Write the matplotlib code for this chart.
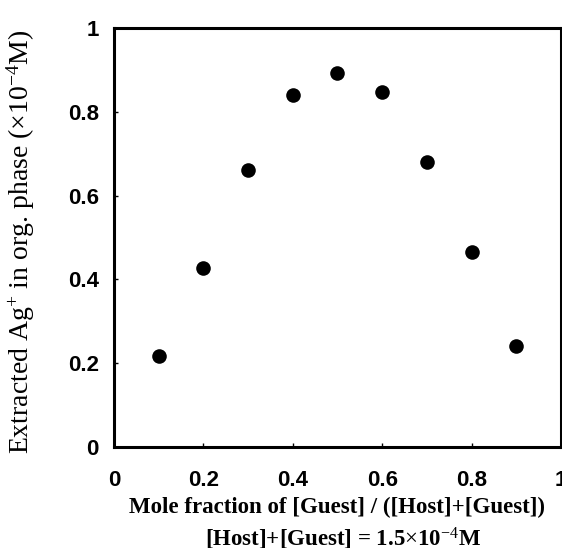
import matplotlib
matplotlib.use("Agg")
import matplotlib.pyplot as plt

mole_fraction = [0.1, 0.2, 0.3, 0.4, 0.5, 0.6, 0.7, 0.8, 0.9]
extracted_ag = [0.217, 0.428, 0.661, 0.841, 0.893, 0.847, 0.681, 0.466, 0.241]
x_ticks = [0, 0.2, 0.4, 0.6, 0.8, 1]
x_tick_labels = ["0", "0.2", "0.4", "0.6", "0.8", "1"]
y_ticks = [0, 0.2, 0.4, 0.6, 0.8, 1]
y_tick_labels = ["0", "0.2", "0.4", "0.6", "0.8", "1"]

plt.rcParams['mathtext.fontset'] = 'custom'
plt.rcParams['mathtext.rm'] = 'Liberation Serif'
plt.rcParams['mathtext.it'] = 'Liberation Serif:italic'
plt.rcParams['mathtext.bf'] = 'Liberation Serif:bold'

fig = plt.figure(figsize=(5.62, 5.48), dpi=100)
ax = fig.add_axes([0.203, 0.185, 0.795, 0.763])

ax.plot(mole_fraction, extracted_ag, linestyle='none', marker='o',
        markersize=10.5, color='black', markeredgewidth=0)

ax.set_xlim(0, 1)
ax.set_ylim(0, 1)
ax.set_xticks(x_ticks)
ax.set_xticklabels(x_tick_labels)
ax.set_yticks(y_ticks)
ax.set_yticklabels(y_tick_labels)

for s in ax.spines.values():
    s.set_linewidth(2.2)
    s.set_color('black')

ax.tick_params(axis='both', direction='in', length=3, width=1, color='black')
ax.tick_params(axis='x', pad=17)
ax.tick_params(axis='y', pad=11)
for lbl in ax.get_xticklabels() + ax.get_yticklabels():
    lbl.set_fontfamily('Liberation Sans')
    lbl.set_fontweight('bold')
    lbl.set_fontsize(16)

fig.text(0.6, 0.074, "Mole fraction of [Guest] / ([Host]+[Guest])",
         ha='center', va='center', fontsize=16.5, family='Liberation Serif',
         fontweight='bold')
fig.text(0.611, 0.016, r"[Host]+[Guest] = 1.5$\times$10$^{-4}$M",
         ha='center', va='center', fontsize=16.5, family='Liberation Serif',
         fontweight='bold')
fig.text(0.037, 0.558, r"Extracted Ag$^{+}$ in org. phase ($\times$10$^{-4}$M)",
         ha='center', va='center', rotation=90, fontsize=20,
         family='Liberation Serif')

fig.savefig("out.png", dpi=100)
